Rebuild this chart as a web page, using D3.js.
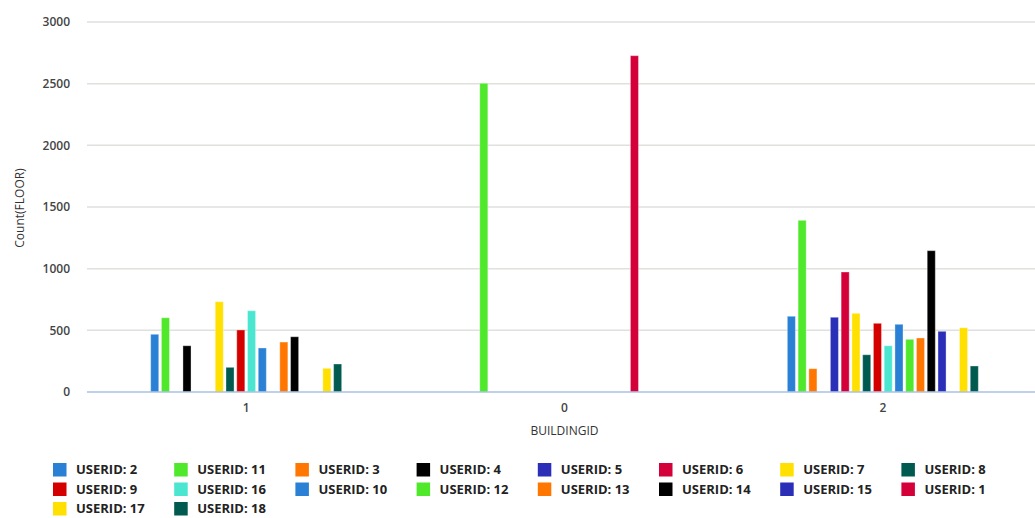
<!DOCTYPE html>
<html>
<head>
<meta charset="utf-8">
<script src="https://cdn.jsdelivr.net/npm/d3@7"></script>
<style>
    body { margin: 0; background: #fff; }
    svg { display: block; font-family: "Open Sans", "Noto Sans", sans-serif; }
    .grid line { stroke: #dfe1dc; stroke-width: 1.5; }
    .tick-label { font-size: 12px; font-weight: 600; fill: #444; }
    .legend text { font-size: 13px; font-weight: 700; fill: #222; }
</style>
</head>
<body>
<div id="chart"></div>
<script>
(function()
{
    "use strict";

    // data ####################################################################
    var buildings = ["1", "0", "2"];
    var userIds = [2, 11, 3, 4, 5, 6, 7, 8, 9, 16, 10, 12, 13, 14, 15, 1, 17, 18];
    var userColors = ["#2a80d5", "#4fe82a", "#ff7700", "#000000", "#2b2fb8", "#d4003a",
                      "#ffe000", "#005a4f", "#d40000", "#4ae6d0", "#2a80d5", "#4fe82a",
                      "#ff7700", "#000000", "#2b2fb8", "#d4003a", "#ffe000", "#005a4f"];
    // counts per building, in userIds order (null = no bar)
    var building1 = [468, 602, null, 375, null, null, 732, 200, 503, 659, 357, null, 405, 448, null, null, 192, 227];
    var building0 = [null, 2503, null, null, null, null, null, null, null, null, null, null, null, null, null, 2727, null, null];
    var building2 = [614, 1392, 189, null, 606, 973, 638, 302, 557, 375, 549, 427, 438, 1146, 492, null, 521, 211];
    var yTicks = [0, 500, 1000, 1500, 2000, 2500, 3000];
    // #########################################################################

    var counts = { "1": building1, "0": building0, "2": building2 };

    var W = 1035, H = 518;
    var svg = d3.select("#chart").append("svg")
                .attr("width", W)
                .attr("height", H);

    var x0 = d3.scaleBand()
               .domain(buildings)
               .range([87, 1042])
               .paddingInner(0.4)
               .paddingOuter(0.2);

    var x1 = d3.scaleBand()
               .domain(userIds.map(String))
               .range([0, x0.bandwidth()])
               .paddingInner(0.25);

    var y = d3.scaleLinear()
              .domain([0, 3000])
              .range([392, 22]);

    var color = d3.scaleOrdinal()
                  .domain(userIds.map(String))
                  .range(userColors);

    // grid lines
    svg.append("g")
       .attr("class", "grid")
       .selectAll("line")
       .data(yTicks.filter(function(t) { return t > 0; }))
       .enter().append("line")
       .attr("x1", 87).attr("x2", W)
       .attr("y1", function(d) { return y(d); })
       .attr("y2", function(d) { return y(d); });

    // y tick labels
    svg.append("g")
       .selectAll("text")
       .data(yTicks)
       .enter().append("text")
       .attr("class", "tick-label")
       .attr("x", 70)
       .attr("y", function(d) { return y(d); })
       .attr("dy", "0.35em")
       .attr("text-anchor", "end")
       .text(function(d) { return d; });

    // bars
    var groups = svg.append("g")
                    .selectAll("g")
                    .data(buildings)
                    .enter().append("g")
                    .attr("transform", function(b) { return "translate(" + x0(b) + ",0)"; });

    groups.selectAll("rect")
          .data(function(b) {
              return userIds.map(function(u, i) { return { user: String(u), value: counts[b][i] }; })
                            .filter(function(d) { return d.value !== null; });
          })
          .enter().append("rect")
          .attr("x", function(d) { return x1(d.user); })
          .attr("y", function(d) { return y(d.value); })
          .attr("width", x1.bandwidth())
          .attr("height", function(d) { return y(0) - y(d.value); })
          .attr("fill", function(d) { return color(d.user); })
          .attr("stroke", "rgba(255,255,255,0.35)")
          .attr("stroke-width", 1);

    // x axis line at zero
    svg.append("line")
       .attr("x1", 87).attr("x2", W)
       .attr("y1", y(0)).attr("y2", y(0))
       .attr("stroke", "#a9c1e3")
       .attr("stroke-width", 1.5);

    // x tick labels
    svg.append("g")
       .selectAll("text")
       .data(buildings)
       .enter().append("text")
       .attr("class", "tick-label")
       .attr("x", function(b) { return x0(b) + x0.bandwidth() / 2; })
       .attr("y", 412)
       .attr("text-anchor", "middle")
       .text(function(b) { return b; });

    // axis titles
    svg.append("text")
       .attr("x", x0("0") + x0.bandwidth() / 2)
       .attr("y", 435)
       .attr("text-anchor", "middle")
       .style("font-size", "12px")
       .style("fill", "#333")
       .text("BUILDINGID");

    svg.append("text")
       .attr("transform", "translate(24,208) rotate(-90)")
       .attr("text-anchor", "middle")
       .style("font-size", "12px")
       .style("fill", "#333")
       .text("Count(FLOOR)");

    // legend (8 per row)
    var legend = svg.append("g")
                    .attr("class", "legend")
                    .selectAll("g")
                    .data(userIds)
                    .enter().append("g")
                    .attr("transform", function(d, i) {
                        return "translate(" + (53 + (i % 8) * 121.2) + "," + (463 + Math.floor(i / 8) * 19.5) + ")";
                    });

    legend.append("rect")
          .attr("width", 13.5)
          .attr("height", 13.5)
          .attr("fill", function(d) { return color(String(d)); });

    legend.append("text")
          .attr("x", 23)
          .attr("y", 7)
          .attr("dy", "0.33em")
          .text(function(d) { return "USERID: " + d; });
}
)();
</script>
</body>
</html>
